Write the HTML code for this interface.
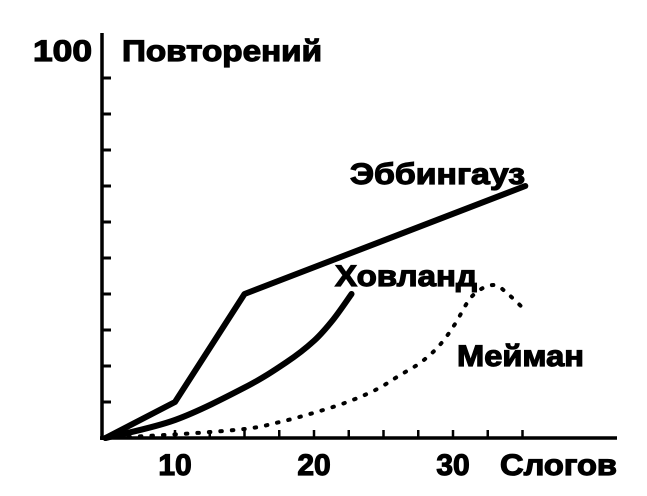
<!DOCTYPE html>
<html><head><meta charset="utf-8"><style>
html,body{margin:0;padding:0;background:#fff;}
svg{display:block;}
text{font-family:"Liberation Sans",sans-serif;font-weight:bold;fill:#000;stroke:#000;stroke-width:1.2px;}
</style></head><body>
<svg id="chart" width="647" height="496" viewBox="0 0 647 496">
<g id="axes"></g>
<g id="series"></g>
<g id="labels"></g>
</svg>
<script>
const xTickVals = [10,12.5,15,17.5,20,22.5,25,27.5,30,32.5,35];
const xTickLabels = ["10","20","30"];
const xLabelVals = [10,20,30];
const yTickVals = [10,20,30,40,50,60,70,80,90,100];
const ebbX = [5,10,15,35.2];
const ebbY = [0,10,40,70];
const hovX = [5,10,15,18,20,21.4,22.7];
const hovY = [0,5,14,21,27,33,40];
const meiX = [5,10,15,17.5,20,22.4,24.5,26.2,27.5,28.6,29.4,30.2,31.4,32.9,34.1,35.3];
const meiY = [0,1,2.5,4.4,7,10,13.5,17.5,20.5,24,27.5,32,39.5,42.5,39.5,35];

const NS="http://www.w3.org/2000/svg";
const X0=36, XS=13.9, Y0=438, YS=3.6;
function sx(v){return X0+v*XS;}
function sy(v){return Y0-v*YS;}
function mk(tag,attrs,parent){const e=document.createElementNS(NS,tag);for(const k in attrs)e.setAttribute(k,attrs[k]);parent.appendChild(e);return e;}
const axes=document.getElementById('axes'), ser=document.getElementById('series'), lab=document.getElementById('labels');

const ya=mk('line',{x1:102,y1:33,x2:102,y2:440,stroke:'#000','stroke-width':3.5},axes);


const xa=mk('line',{x1:100,y1:438,x2:617,y2:438,stroke:'#000','stroke-width':3.5},axes);


yTickVals.forEach(v=>{
  const t=mk('line',{x1:102,y1:sy(v),x2:111,y2:sy(v),stroke:'#000','stroke-width':3},axes);
  
  
});
xTickVals.forEach(v=>{
  const t=mk('line',{x1:sx(v),y1:438,x2:sx(v),y2:430,stroke:'#000','stroke-width':2.5},axes);
  
  
});
xLabelVals.forEach((v,i)=>{
  const t=mk('text',{x:sx(v),y:475,'font-size':30,'text-anchor':'middle'},lab);
  t.textContent=xTickLabels[i];
  
  
});
function pts(xs,ys){return xs.map((x,i)=>sx(x)+','+sy(ys[i])).join(' ');}
function smooth(xs,ys){
  let d='M'+sx(xs[0])+','+sy(ys[0]);
  for(let i=1;i<xs.length;i++){
    const p0=i>1?[xs[i-2],ys[i-2]]:[xs[i-1],ys[i-1]];
    const p1=[xs[i-1],ys[i-1]],p2=[xs[i],ys[i]];
    const p3=i<xs.length-1?[xs[i+1],ys[i+1]]:p2;
    const c1=[p1[0]+(p2[0]-p0[0])/6,p1[1]+(p2[1]-p0[1])/6];
    const c2=[p2[0]-(p3[0]-p1[0])/6,p2[1]-(p3[1]-p1[1])/6];
    d+=' C'+sx(c1[0])+','+sy(c1[1])+' '+sx(c2[0])+','+sy(c2[1])+' '+sx(p2[0])+','+sy(p2[1]);
  }
  return d;
}
const e=mk('polyline',{points:pts(ebbX,ebbY),fill:'none',stroke:'#000','stroke-width':6,'stroke-linejoin':'round','stroke-linecap':'round'},ser);


const h=mk('path',{d:smooth(hovX,hovY),fill:'none',stroke:'#000','stroke-width':6,'stroke-linecap':'round'},ser);


const m=mk('path',{d:smooth(meiX,meiY),fill:'none',stroke:'#000','stroke-width':4,'stroke-dasharray':'1.5 10','stroke-linecap':'round'},ser);



const texts=[
  ['100',33,61,59,'y-max-label'],
  ['Повторений',122,61,200,'y-axis-title'],
  ['Эббингауз',350,184,175,'ebbinghaus-label'],
  ['Ховланд',335,286,142,'hovland-label'],
  ['Мейман',457,366,127,'meiman-label'],
  ['Слогов',500,475,117,'x-axis-title']
];
texts.forEach(a=>{
  const t=mk('text',{x:a[1],y:a[2],'font-size':30,textLength:a[3],lengthAdjust:'spacingAndGlyphs'},lab);
  t.textContent=a[0];
  
  
});
</script>
</body></html>
